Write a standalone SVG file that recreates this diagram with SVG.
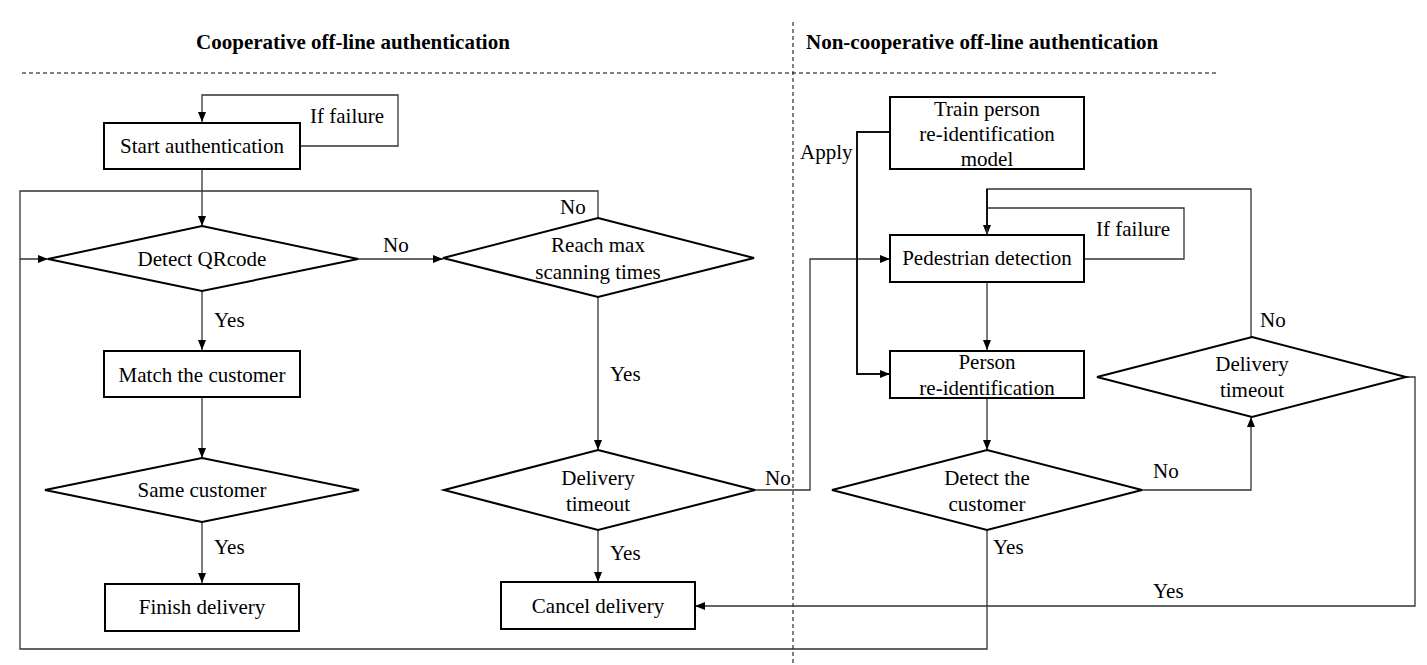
<svg xmlns="http://www.w3.org/2000/svg" width="1427" height="665" viewBox="0 0 1427 665" font-family="'Liberation Serif', 'Times New Roman', serif" font-size="21">
<style>
.t{font-weight:bold}
.c{text-anchor:middle}
.box{fill:#fff;stroke:#000;stroke-width:2}
.con{fill:none;stroke:#333;stroke-width:1.3}
.thick{fill:none;stroke:#111;stroke-width:2}
.dash{fill:none;stroke:#000;stroke-width:1;stroke-dasharray:4 3}
</style>
<defs>
<marker id="ah" markerUnits="userSpaceOnUse" markerWidth="10" markerHeight="8" refX="10" refY="4" orient="auto">
<path d="M0,0 L10,4 L0,8 z" fill="#000"/>
</marker>
</defs>
<rect width="1427" height="665" fill="#fff"/>
<g id="dividers">
<line class="dash" x1="22" y1="73" x2="1217" y2="73"/>
<line class="dash" x1="793" y1="22" x2="793" y2="665"/>
<text class="t c" x="353" y="49">Cooperative off-line authentication</text>
<text class="t" x="806" y="49">Non-cooperative off-line authentication</text>
</g>
<g id="connectors">
<polyline class="con" points="301,146 398,146 398,95 202,95 202,122" marker-end="url(#ah)"/>
<line class="con" x1="202" y1="169" x2="202" y2="226" marker-end="url(#ah)"/>
<line class="con" x1="358" y1="259" x2="443" y2="259" marker-end="url(#ah)"/>
<polyline class="con" points="598,218 598,191 20,191 20,259 48,259" marker-end="url(#ah)"/>
<polyline class="con" points="987,530 987,649 20,649 20,259"/>
<line class="con" x1="202" y1="291" x2="202" y2="350" marker-end="url(#ah)"/>
<line class="con" x1="202" y1="397" x2="202" y2="458" marker-end="url(#ah)"/>
<line class="con" x1="202" y1="522" x2="202" y2="583" marker-end="url(#ah)"/>
<line class="con" x1="598" y1="297" x2="598" y2="450" marker-end="url(#ah)"/>
<line class="con" x1="598" y1="530" x2="598" y2="582" marker-end="url(#ah)"/>
<polyline class="con" points="755,490 810,490 810,259 890,259" marker-end="url(#ah)"/>
<polyline class="thick" points="890,132 857,132 857,374 890,374" marker-end="url(#ah)"/>
<polyline class="con" points="1084,259 1184,259 1184,208 987,208 987,235" marker-end="url(#ah)"/>
<polyline class="con" points="1251,337 1251,189 987,189 987,235"/>
<line class="thick" x1="987" y1="189" x2="987" y2="228"/>
<line class="con" x1="987" y1="282" x2="987" y2="350" marker-end="url(#ah)"/>
<line class="con" x1="987" y1="398" x2="987" y2="450" marker-end="url(#ah)"/>
<polyline class="con" points="1141,490 1251,490 1251,417" marker-end="url(#ah)"/>
<polyline class="con" points="1405,377 1415,377 1415,606 695,606" marker-end="url(#ah)"/>
<text x="310" y="123">If failure</text>
<text x="383" y="252">No</text>
<text x="560" y="214">No</text>
<text x="214" y="327">Yes</text>
<text x="610" y="381">Yes</text>
<text x="214" y="554">Yes</text>
<text x="610" y="560">Yes</text>
<text x="765" y="485">No</text>
<text x="800" y="159">Apply</text>
<text x="1096" y="236">If failure</text>
<text x="1260" y="327">No</text>
<text x="1153" y="478">No</text>
<text x="993" y="554">Yes</text>
<text x="1153" y="598">Yes</text>
</g>
<g id="start">
<rect class="box" x="104" y="123" width="196" height="46"/>
<text class="c" x="202" y="153">Start authentication</text>
</g>
<g id="detect-qr">
<polygon class="box" points="202,226 358,259 202,291 48,259"/>
<text class="c" x="202" y="266">Detect QRcode</text>
</g>
<g id="match">
<rect class="box" x="104" y="351" width="196" height="46"/>
<text class="c" x="202" y="382">Match the customer</text>
</g>
<g id="same">
<polygon class="box" points="202,458 359,490 202,522 45,490"/>
<text class="c" x="202" y="497">Same customer</text>
</g>
<g id="finish">
<rect class="box" x="105" y="584" width="194" height="47"/>
<text class="c" x="202" y="614">Finish delivery</text>
</g>
<g id="reach">
<polygon class="box" points="598,218 754,258 598,297 443,258"/>
<text class="c" x="598" y="252">Reach max</text>
<text class="c" x="598" y="279">scanning times</text>
</g>
<g id="timeout-left">
<polygon class="box" points="598,450 755,490 598,530 444,490"/>
<text class="c" x="598" y="485">Delivery</text>
<text class="c" x="598" y="511">timeout</text>
</g>
<g id="cancel">
<rect class="box" x="501" y="582" width="194" height="47"/>
<text class="c" x="598" y="613">Cancel delivery</text>
</g>
<g id="train">
<rect class="box" x="890" y="97" width="194" height="72"/>
<text class="c" x="987" y="116">Train person</text>
<text class="c" x="987" y="141">re-identification</text>
<text class="c" x="987" y="166">model</text>
</g>
<g id="pedestrian">
<rect class="box" x="890" y="235" width="194" height="47"/>
<text class="c" x="987" y="265">Pedestrian detection</text>
</g>
<g id="reid">
<rect class="box" x="890" y="351" width="194" height="47"/>
<text class="c" x="987" y="369">Person</text>
<text class="c" x="987" y="395">re-identification</text>
</g>
<g id="detect-customer">
<polygon class="box" points="987,450 1142,490 987,530 832,490"/>
<text class="c" x="987" y="485">Detect the</text>
<text class="c" x="987" y="511">customer</text>
</g>
<g id="timeout-right">
<polygon class="box" points="1252,337 1406,377 1252,417 1097,377"/>
<text class="c" x="1252" y="371">Delivery</text>
<text class="c" x="1252" y="397">timeout</text>
</g>
</svg>
